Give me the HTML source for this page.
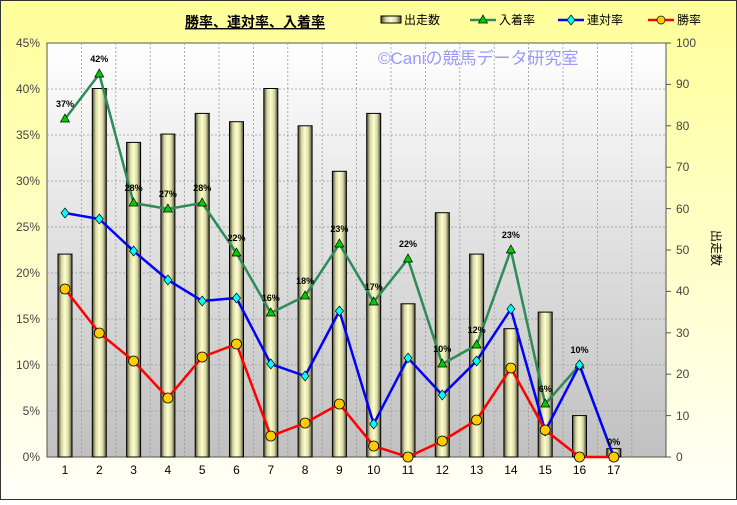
<!DOCTYPE html>
<html><head><meta charset="utf-8"><style>
html,body{margin:0;padding:0;}
svg text{font-family:"Liberation Sans","Noto Sans CJK JP",sans-serif;}
</style></head><body>
<svg width="737" height="500" xmlns="http://www.w3.org/2000/svg" xmlns:xlink="http://www.w3.org/1999/xlink">
<defs>
<linearGradient id="bg" x1="0" y1="0" x2="0" y2="1"><stop offset="0" stop-color="#ffff99"/><stop offset="1" stop-color="#fffff8"/></linearGradient>
<linearGradient id="pa" x1="0" y1="0" x2="0" y2="1"><stop offset="0" stop-color="#ffffff"/><stop offset="1" stop-color="#c0c0c0"/></linearGradient>
<linearGradient id="bar" x1="0" y1="0" x2="1" y2="0"><stop offset="0" stop-color="#4a4a30"/><stop offset="0.25" stop-color="#d8d8a8"/><stop offset="0.5" stop-color="#ffffcc"/><stop offset="0.75" stop-color="#d8d8a8"/><stop offset="1" stop-color="#4a4a30"/></linearGradient>
<path id="t" d="M0 -5 L4.5 3 L-4.5 3Z" fill="#0c0" stroke="#000" stroke-width="0.7"/>
<path id="d" d="M0 -5 L4 0 L0 5 L-4 0Z" fill="#0ff" stroke="#000" stroke-width="0.7"/>
<circle id="c" cx="0" cy="0" r="5" fill="#fc0" stroke="#000" stroke-width="0.8"/>
</defs>
<rect x="0.5" y="0.5" width="736" height="499" fill="url(#bg)" stroke="#333"/>
<rect x="47" y="43" width="619" height="414" fill="url(#pa)" stroke="#555"/>
<g stroke="#999" stroke-dasharray="2,2" stroke-width="0.8">
<line x1="47" x2="666" y1="89" y2="89"/><line x1="47" x2="666" y1="135" y2="135"/><line x1="47" x2="666" y1="181" y2="181"/><line x1="47" x2="666" y1="227" y2="227"/><line x1="47" x2="666" y1="273" y2="273"/><line x1="47" x2="666" y1="319" y2="319"/><line x1="47" x2="666" y1="365" y2="365"/><line x1="47" x2="666" y1="411" y2="411"/>
<line x1="81.4" x2="81.4" y1="43" y2="457"/><line x1="115.8" x2="115.8" y1="43" y2="457"/><line x1="150.2" x2="150.2" y1="43" y2="457"/><line x1="184.6" x2="184.6" y1="43" y2="457"/><line x1="219" x2="219" y1="43" y2="457"/><line x1="253.4" x2="253.4" y1="43" y2="457"/><line x1="287.8" x2="287.8" y1="43" y2="457"/><line x1="322.2" x2="322.2" y1="43" y2="457"/><line x1="356.6" x2="356.6" y1="43" y2="457"/><line x1="391" x2="391" y1="43" y2="457"/><line x1="425.4" x2="425.4" y1="43" y2="457"/><line x1="459.8" x2="459.8" y1="43" y2="457"/><line x1="494.2" x2="494.2" y1="43" y2="457"/><line x1="528.6" x2="528.6" y1="43" y2="457"/><line x1="563" x2="563" y1="43" y2="457"/><line x1="597.4" x2="597.4" y1="43" y2="457"/><line x1="631.8" x2="631.8" y1="43" y2="457"/>
</g>
<g fill="url(#bar)" stroke="#000" stroke-width="1">
<rect x="58" y="254.1" width="14" height="202.9"/>
<rect x="92.3" y="88.5" width="14" height="368.5"/>
<rect x="126.6" y="142.4" width="14" height="314.6"/>
<rect x="160.9" y="134.1" width="14" height="322.9"/>
<rect x="195.2" y="113.4" width="14" height="343.6"/>
<rect x="229.5" y="121.7" width="14" height="335.3"/>
<rect x="263.8" y="88.5" width="14" height="368.5"/>
<rect x="298.1" y="125.8" width="14" height="331.2"/>
<rect x="332.4" y="171.3" width="14" height="285.7"/>
<rect x="366.7" y="113.4" width="14" height="343.6"/>
<rect x="401" y="303.8" width="14" height="153.2"/>
<rect x="435.3" y="212.7" width="14" height="244.3"/>
<rect x="469.6" y="254.1" width="14" height="202.9"/>
<rect x="503.9" y="328.7" width="14" height="128.3"/>
<rect x="538.2" y="312.1" width="14" height="144.9"/>
<rect x="572.5" y="415.6" width="14" height="41.4"/>
<rect x="606.8" y="448.7" width="14" height="8.3"/>
</g>
<g fill="none" stroke-width="2.5">
<polyline stroke="#2e8b57" points="65,119 99.3,74 133.6,203 167.9,209 202.2,203 236.5,253 270.8,313 305.1,296 339.4,244 373.7,302 408,259 442.3,364 476.6,345 510.9,250 545.2,404 579.5,365 613.8,457"/>
<polyline stroke="#0000ff" points="65,213 99.3,219 133.6,251 167.9,280 202.2,301 236.5,298 270.8,364 305.1,376 339.4,311 373.7,424 408,358 442.3,395 476.6,361 510.9,309 545.2,431 579.5,365 613.8,457"/>
<polyline stroke="#ff0000" points="65,289 99.3,333 133.6,361 167.9,398 202.2,357 236.5,344 270.8,436 305.1,423 339.4,404 373.7,446 408,457 442.3,441 476.6,420 510.9,368 545.2,430 579.5,457 613.8,457"/>
</g>
<use xlink:href="#t" x="65" y="119"/><use xlink:href="#t" x="99.3" y="74"/><use xlink:href="#t" x="133.6" y="203"/><use xlink:href="#t" x="167.9" y="209"/><use xlink:href="#t" x="202.2" y="203"/><use xlink:href="#t" x="236.5" y="253"/><use xlink:href="#t" x="270.8" y="313"/><use xlink:href="#t" x="305.1" y="296"/><use xlink:href="#t" x="339.4" y="244"/><use xlink:href="#t" x="373.7" y="302"/><use xlink:href="#t" x="408" y="259"/><use xlink:href="#t" x="442.3" y="364"/><use xlink:href="#t" x="476.6" y="345"/><use xlink:href="#t" x="510.9" y="250"/><use xlink:href="#t" x="545.2" y="404"/><use xlink:href="#t" x="579.5" y="365"/><use xlink:href="#t" x="613.8" y="457"/>
<use xlink:href="#d" x="65" y="213"/><use xlink:href="#d" x="99.3" y="219"/><use xlink:href="#d" x="133.6" y="251"/><use xlink:href="#d" x="167.9" y="280"/><use xlink:href="#d" x="202.2" y="301"/><use xlink:href="#d" x="236.5" y="298"/><use xlink:href="#d" x="270.8" y="364"/><use xlink:href="#d" x="305.1" y="376"/><use xlink:href="#d" x="339.4" y="311"/><use xlink:href="#d" x="373.7" y="424"/><use xlink:href="#d" x="408" y="358"/><use xlink:href="#d" x="442.3" y="395"/><use xlink:href="#d" x="476.6" y="361"/><use xlink:href="#d" x="510.9" y="309"/><use xlink:href="#d" x="545.2" y="431"/><use xlink:href="#d" x="579.5" y="365"/><use xlink:href="#d" x="613.8" y="457"/>
<use xlink:href="#c" x="65" y="289"/><use xlink:href="#c" x="99.3" y="333"/><use xlink:href="#c" x="133.6" y="361"/><use xlink:href="#c" x="167.9" y="398"/><use xlink:href="#c" x="202.2" y="357"/><use xlink:href="#c" x="236.5" y="344"/><use xlink:href="#c" x="270.8" y="436"/><use xlink:href="#c" x="305.1" y="423"/><use xlink:href="#c" x="339.4" y="404"/><use xlink:href="#c" x="373.7" y="446"/><use xlink:href="#c" x="408" y="457"/><use xlink:href="#c" x="442.3" y="441"/><use xlink:href="#c" x="476.6" y="420"/><use xlink:href="#c" x="510.9" y="368"/><use xlink:href="#c" x="545.2" y="430"/><use xlink:href="#c" x="579.5" y="457"/><use xlink:href="#c" x="613.8" y="457"/>
<g font-size="9" font-weight="bold" text-anchor="middle">
<text x="65" y="107">37%</text><text x="99.3" y="62">42%</text><text x="133.6" y="191">28%</text><text x="167.9" y="197">27%</text><text x="202.2" y="191">28%</text><text x="236.5" y="241">22%</text><text x="270.8" y="301">16%</text><text x="305.1" y="284">18%</text><text x="339.4" y="232">23%</text><text x="373.7" y="290">17%</text><text x="408" y="247">22%</text><text x="442.3" y="352">10%</text><text x="476.6" y="333">12%</text><text x="510.9" y="238">23%</text><text x="545.2" y="392">6%</text><text x="579.5" y="353">10%</text><text x="613.8" y="445">0%</text>
</g>
<g font-size="12" text-anchor="middle" fill="#000">
<text x="65" y="474">1</text><text x="99.3" y="474">2</text><text x="133.6" y="474">3</text><text x="167.9" y="474">4</text><text x="202.2" y="474">5</text><text x="236.5" y="474">6</text><text x="270.8" y="474">7</text><text x="305.1" y="474">8</text><text x="339.4" y="474">9</text><text x="373.7" y="474">10</text><text x="408" y="474">11</text><text x="442.3" y="474">12</text><text x="476.6" y="474">13</text><text x="510.9" y="474">14</text><text x="545.2" y="474">15</text><text x="579.5" y="474">16</text><text x="613.8" y="474">17</text>
</g>
<g font-size="12" fill="#444" text-anchor="end">
<text x="40" y="461">0%</text><text x="40" y="415">5%</text><text x="40" y="369">10%</text><text x="40" y="323">15%</text><text x="40" y="277">20%</text><text x="40" y="231">25%</text><text x="40" y="185">30%</text><text x="40" y="139">35%</text><text x="40" y="93">40%</text><text x="40" y="47">45%</text>
</g>
<g stroke="#555"><line x1="666" x2="671" y1="457" y2="457"/><line x1="666" x2="671" y1="415.6" y2="415.6"/><line x1="666" x2="671" y1="374.2" y2="374.2"/><line x1="666" x2="671" y1="332.8" y2="332.8"/><line x1="666" x2="671" y1="291.4" y2="291.4"/><line x1="666" x2="671" y1="250" y2="250"/><line x1="666" x2="671" y1="208.6" y2="208.6"/><line x1="666" x2="671" y1="167.2" y2="167.2"/><line x1="666" x2="671" y1="125.8" y2="125.8"/><line x1="666" x2="671" y1="84.4" y2="84.4"/><line x1="666" x2="671" y1="43" y2="43"/></g>
<g font-size="12" fill="#444">
<text x="676" y="461">0</text><text x="676" y="420">10</text><text x="676" y="378">20</text><text x="676" y="337">30</text><text x="676" y="295">40</text><text x="676" y="254">50</text><text x="676" y="213">60</text><text x="676" y="171">70</text><text x="676" y="130">80</text><text x="676" y="88">90</text><text x="676" y="47">100</text>
</g>
<text x="255" y="27" font-size="14" font-weight="bold" text-anchor="middle" text-decoration="underline">勝率、連対率、入着率</text>
<g font-size="12">
<rect x="381" y="16" width="20" height="7" fill="url(#bar)" stroke="#000"/><text x="404" y="24">出走数</text>
<line x1="470" x2="496" y1="20" y2="20" stroke="#2e8b57" stroke-width="2.5"/><use xlink:href="#t" x="483" y="20"/><text x="499" y="24">入着率</text>
<line x1="558" x2="584" y1="20" y2="20" stroke="#0000ff" stroke-width="2.5"/><use xlink:href="#d" x="571" y="20"/><text x="587" y="24">連対率</text>
<line x1="648" x2="674" y1="20" y2="20" stroke="#ff0000" stroke-width="2.5"/><circle cx="661" cy="20" r="4" fill="#fc0" stroke="#000" stroke-width="0.7"/><text x="677" y="24">勝率</text>
</g>
<text x="378" y="64" font-size="17" fill="#9999ff">©Caniの競馬データ研究室</text>
<text transform="translate(712,248) rotate(90)" font-size="12" text-anchor="middle">出走数</text>
</svg>
</body></html>
